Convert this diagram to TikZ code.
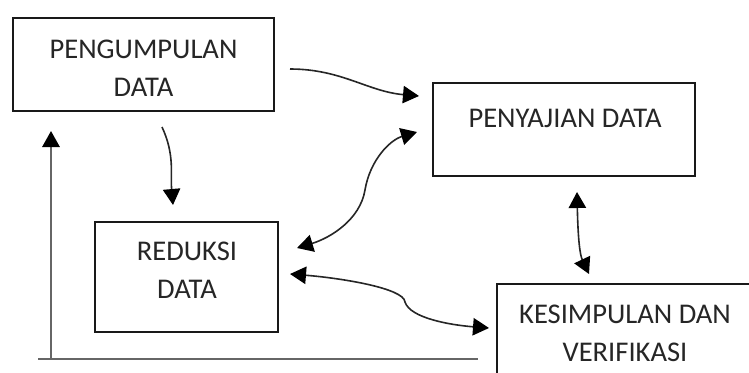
\documentclass[tikz,border=0pt]{standalone}
\usepackage{fontspec}
\setmainfont{Carlito}
\usetikzlibrary{arrows.meta,fit}
\tikzset{
  box/.style={draw=black!90, line width=2pt, inner sep=0pt},
  lbl/.style={font=\fontsize{21.4}{28.5}\selectfont, text=black!85, align=center, inner sep=0pt},
  tipa/.tip={Triangle[length=12pt,width=13pt,color=black]},
  conn/.style={draw=black!85, line width=1.2pt, -tipa},
  bconn/.style={draw=black!85, line width=1.2pt, tipa-tipa},
  axisline/.style={draw=black!60, line width=1.5pt}
}
\begin{document}
\begin{tikzpicture}[x=0.75pt,y=-0.75pt]
\clip (0,0) rectangle (749,372);
\fill[white] (0,0) rectangle (749,372);

% boxes
\node[box, fit={(13,18) (274,111)}] (pd) {};
\node[box, fit={(433,83) (695,176)}] (py) {};
\node[box, fit={(95,222) (278,332)}] (rd) {};
\node[box, fit={(497,284) (756,390)}] (ks) {};

% texts
\node[lbl] (pdt) at (143.5,68) {PENGUMPULAN\\DATA};
\node[lbl] (pyt) at (565,118.5) {PENYAJIAN DATA};
\node[lbl] (rdt) at (187,270.5) {REDUKSI\\DATA};
\node[lbl] (kst) at (625,333.5) {KESIMPULAN DAN\\VERIFIKASI};

% connector end points
\coordinate (a1s) at (290,69);   \coordinate (a1e) at (419,96);
\coordinate (a2s) at (162,127);  \coordinate (a2e) at (173,205);
\coordinate (a3s) at (297,248);  \coordinate (a3e) at (417,132);
\coordinate (a4s) at (290,274);  \coordinate (a4e) at (489,328);
\coordinate (a5s) at (577,192);  \coordinate (a5e) at (589,274);
\coordinate (axo) at (51,359);   \coordinate (axt) at (51,131);
\coordinate (axl) at (38,359);   \coordinate (axr) at (478,359);

% connectors
\draw[conn] (a1s) to[out=0,in=175] (a1e);
\draw[conn] (a2s) to[out=-65,in=95] (a2e);
\draw[bconn] (a3s) .. controls (330,238) and (360,220) .. (365,190)
                   .. controls (370,160) and (390,140) .. (a3e);
\draw[bconn] (a4s) .. controls (340,278) and (404,288) .. (405,302)
                   .. controls (410,318) and (450,325) .. (a4e);
\draw[bconn] (a5s) .. controls (578,240) and (580,255) .. (a5e);

% feedback axis
\draw[axisline] (axl) -- (axr);
\draw[axisline, -tipa] (axo) -- (axt);
\end{tikzpicture}
\end{document}
